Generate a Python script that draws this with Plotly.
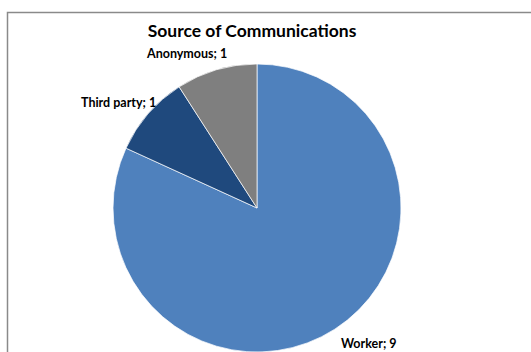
import plotly.graph_objects as go

# Source of communications received
sources = ["Worker", "Third party", "Anonymous"]
counts = [9, 1, 1]
slice_colors = ["#4F81BD", "#1F497D", "#7F7F7F"]

W, H = 531, 352

def px(x):
    return x / W

def py(y):
    return 1 - y / H

fig = go.Figure(
    go.Pie(
        labels=sources,
        values=counts,
        sort=False,
        direction="clockwise",
        rotation=0,
        textinfo="none",
        hoverinfo="label+value",
        marker=dict(colors=slice_colors, line=dict(color="#FFFFFF", width=0.7)),
        domain=dict(x=[px(113), px(401)], y=[py(352), py(64)]),
        showlegend=False,
    )
)

# data labels in "Category; value" form, placed around the pie
label_pos = {
    "Anonymous": (186, 53),
    "Third party": (118, 102),
    "Worker": (369, 343.5),
}
for name, val in zip(sources, counts):
    lx, ly = label_pos[name]
    fig.add_annotation(
        x=px(lx), y=py(ly), xref="paper", yref="paper",
        text=f"<b>{name}; {val}</b>", showarrow=False,
        xanchor="center", yanchor="middle",
        font=dict(family="Lato", size=12.5, color="#000000"),
    )

# chart-area border
fig.add_shape(
    type="rect", xref="paper", yref="paper",
    x0=px(7.5), x1=px(W + 20), y0=py(H + 20), y1=py(12.5),
    line=dict(color="#8A8A8A", width=1.5), fillcolor="rgba(0,0,0,0)",
)

fig.update_layout(
    width=W, height=H,
    margin=dict(l=0, r=0, t=0, b=0),
    paper_bgcolor="#FFFFFF",
    plot_bgcolor="#FFFFFF",
    title=dict(
        text="<b>Source of Communications</b>",
        x=px(252), xanchor="center",
        y=py(31), yanchor="middle",
        font=dict(family="Lato", size=17.5, color="#000000"),
    ),
)

fig.write_html("out.html")
